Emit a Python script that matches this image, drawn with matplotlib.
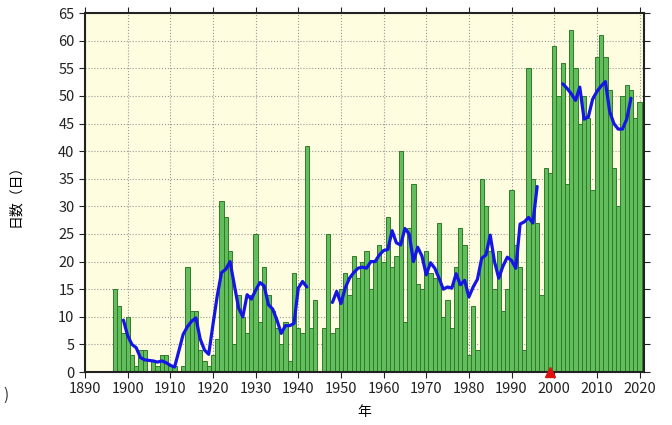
import numpy as np
import matplotlib
matplotlib.use("Agg")
import matplotlib.pyplot as plt

plt.rcParams['font.family'] = ['Liberation Sans Narrow', 'Noto Sans CJK JP', 'DejaVu Sans']

# Annual counts (days), 1897-2020; 1945 missing
years = np.arange(1897, 2021)
days = [15, 12, 7, 10, 3, 1, 4, 4, 0, 2,            # 1897-1906
        1, 3, 3, 1, 1, 0, 1, 19, 11, 11,            # 1907-1916
        4, 2, 1, 3, 6, 31, 28, 22, 5, 14,           # 1917-1926
        10, 7, 14, 25, 9, 19, 14, 11, 8, 5,         # 1927-1936
        9, 2, 18, 8, 7, 41, 8, 13, np.nan, 8,       # 1937-1946
        25, 7, 8, 15, 18, 14, 21, 17, 20, 22,       # 1947-1956
        15, 20, 23, 20, 28, 19, 21, 40, 9, 26,      # 1957-1966
        34, 16, 15, 22, 18, 17, 27, 10, 13, 8,      # 1967-1976
        19, 26, 23, 3, 12, 4, 35, 30, 22, 15,       # 1977-1986
        22, 11, 15, 33, 23, 19, 4, 55, 35, 27,      # 1987-1996
        14, 37, 36, 59, 50, 56, 34, 62, 55, 45,     # 1997-2006
        50, 46, 33, 57, 61, 57, 51, 37, 30, 50,     # 2007-2016
        52, 51, 46, 49]                             # 2017-2020

# 5-year running mean as drawn (three separate pieces)
ma1_years = np.arange(1899, 1943)
ma1 = [9.4, 6.6, 5.0, 4.4, 2.6, 2.2, 2.1, 2.0, 1.8, 2.0,
       1.7, 1.2, 0.9, 3.8, 6.8, 8.2, 9.2, 9.8, 6.0, 4.0,
       3.2, 8.6, 13.8, 18.0, 18.6, 20.0, 15.8, 11.6, 10.0, 14.0,
       13.2, 14.8, 16.2, 15.6, 12.2, 11.4, 9.4, 7.0, 8.4, 8.4,
       8.8, 15.2, 16.4, 15.4]
ma2_years = np.arange(1948, 1997)
ma2 = [12.6, 14.6, 12.4, 15.2, 17.0, 18.0, 18.8, 19.0, 18.8, 20.0,
       20.0, 21.2, 22.0, 22.2, 25.6, 23.4, 23.0, 26.0, 25.0, 20.0,
       22.6, 21.0, 17.6, 19.8, 18.8, 17.0, 15.0, 15.4, 15.2, 17.8,
       15.8, 16.6, 13.6, 15.4, 16.8, 20.6, 21.2, 24.8, 20.0, 17.0,
       19.2, 20.8, 20.2, 18.8, 26.8, 27.2, 28.0, 27.0, 33.6]
ma3_years = np.arange(2002, 2019)
ma3 = [52.2, 51.4, 50.4, 49.2, 51.6, 45.8, 46.2, 49.4, 50.8, 51.8,
       52.6, 47.2, 45.0, 44.0, 44.0, 45.8, 49.6]

marker_year = 1999

fig = plt.figure(figsize=(6.72, 4.25), dpi=100)
ax = fig.add_axes([0.1265, 0.1247, 0.8315, 0.8443])
ax.set_facecolor('#fffde0')

ax.bar(years, days, width=1.0, color='#62bd5c', edgecolor='#2f7a2a', linewidth=0.7, zorder=2)

for yy, mm in [(ma1_years, ma1), (ma2_years, ma2), (ma3_years, ma3)]:
    ax.plot(yy, mm, color='#1515e6', linewidth=2.3, zorder=3, solid_capstyle='round')

ax.plot([marker_year], [0], marker='^', color='#e01010', markersize=6.5,
        clip_on=False, zorder=5, linestyle='none')

ax.set_xlim(1890, 2021)
ax.set_ylim(0, 65)
ax.set_xticks(np.arange(1890, 2021, 10))
ax.set_yticks(np.arange(0, 66, 5))
ax.grid(True, color='#999999', linestyle=':', linewidth=0.8, zorder=0)
ax.set_axisbelow(True)
ax.tick_params(axis='both', direction='out', length=4, width=0.8, labelsize=10.5,
               top=True, right=True, colors='#222222')
for s in ax.spines.values():
    s.set_linewidth(1.5)
    s.set_color('#222222')

ax.set_xlabel('年', fontsize=10, labelpad=6)
ax.set_ylabel('日数（日）', fontsize=10, labelpad=26)
fig.text(0.005, 0.06, ')', fontsize=11, color='#333333')

fig.savefig('out.png', dpi=100)
